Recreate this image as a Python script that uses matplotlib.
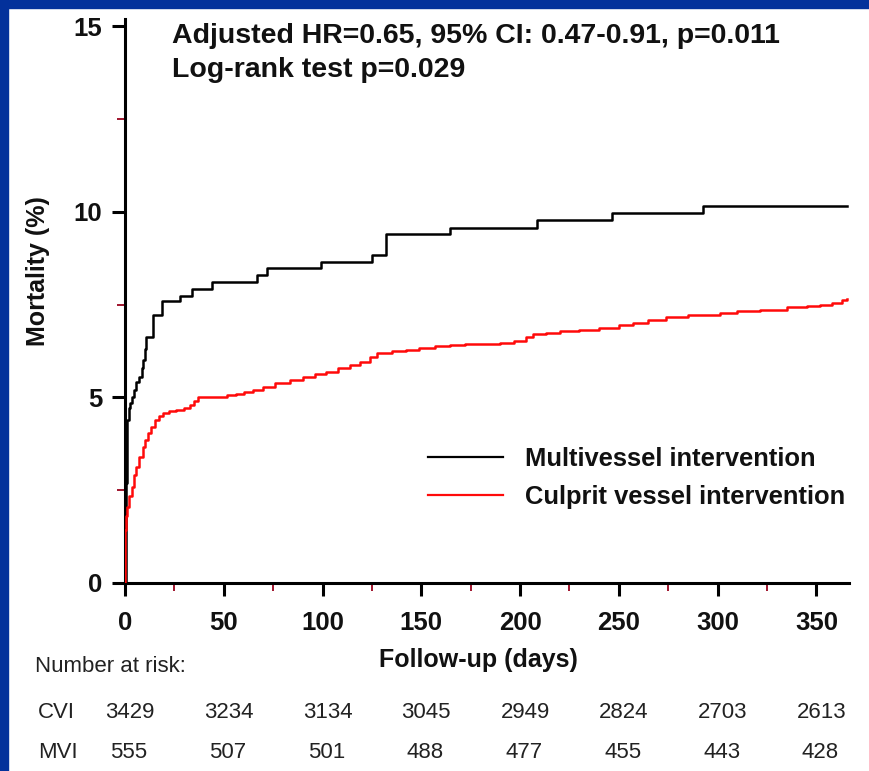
import matplotlib
matplotlib.use("Agg")
import matplotlib.pyplot as plt
from matplotlib.patches import Rectangle
from matplotlib.transforms import blended_transform_factory
from matplotlib.ticker import MultipleLocator

plt.rcParams['font.family'] = ['Liberation Sans', 'DejaVu Sans']

# Cumulative mortality (%) — multivessel intervention (MVI)
mvi_days = [0, 0.3, 0.5, 0.8, 1.0, 1.2, 2.0, 2.5, 3.5, 4.5, 5.5, 7.0, 8.5, 9.2,
            10.0, 10.8, 14.0, 18.6, 27.8, 33.9, 44.0, 67.0, 72.0, 99.0, 125.0,
            132.0, 164.5, 208.6, 246.6, 292.7, 365.6]
mvi_mort = [0, 1.5, 2.7, 3.5, 4.0, 4.4, 4.7, 4.85, 5.0, 5.2, 5.4, 5.55, 5.8, 6.0,
            6.3, 6.63, 7.22, 7.6, 7.74, 7.93, 8.1, 8.3, 8.49, 8.65, 8.84,
            9.4, 9.57, 9.78, 9.97, 10.16, 10.16]

# Cumulative mortality (%) — culprit vessel intervention (CVI)
cvi_days = [0, 0.1, 0.5, 1.2, 2.2, 3.4, 4.5, 5.6, 7.2, 9.0, 10.3, 11.6, 13.3,
            15.2, 17.0, 19.2, 22.5, 26.0, 30.0, 33.0, 35.0, 37.0, 43.0, 51.6,
            56, 60, 65, 70, 76, 83.5, 90, 96, 102, 108, 114, 119, 124, 127.6,
            135, 142, 149, 157, 164.5, 172, 180, 190, 197, 203, 206.6, 213,
            220, 230, 240, 250, 257, 265, 274, 285, 301, 310, 321.5, 335, 345,
            352, 358, 363, 365.6]
cvi_mort = [0, 1.43, 1.8, 2.05, 2.35, 2.59, 2.9, 3.13, 3.4, 3.67, 3.85, 4.04, 4.2,
            4.39, 4.5, 4.58, 4.62, 4.66, 4.72, 4.8, 4.9, 5.01, 5.02, 5.05,
            5.1, 5.15, 5.2, 5.28, 5.38, 5.47, 5.55, 5.62, 5.69, 5.78, 5.86, 5.96, 6.08, 6.2,
            6.24, 6.28, 6.33, 6.37, 6.41, 6.43, 6.45, 6.47, 6.53, 6.62, 6.7, 6.74,
            6.78, 6.82, 6.88, 6.95, 7.0, 7.08, 7.17, 7.22, 7.28, 7.32, 7.36, 7.42, 7.47,
            7.5, 7.55, 7.62, 7.65]

# Number at risk table
risk_days = [0, 50, 100, 150, 200, 250, 300, 350]
risk_cvi = [3429, 3234, 3134, 3045, 2949, 2824, 2703, 2613]
risk_mvi = [555, 507, 501, 488, 477, 455, 443, 428]

x_ticks = [0, 50, 100, 150, 200, 250, 300, 350]
y_ticks = [0, 5, 10, 15]

W, H = 869, 771
fig = plt.figure(figsize=(W / 100, H / 100), dpi=100)
fig.patch.set_facecolor('white')


def fx(px):
    return px / W


def fy(py):
    return 1 - py / H


# slide frame: blue bars on top and left edges
frame_blue = '#03319b'
fig.patches.append(Rectangle((0, fy(8)), 1, 8 / H, transform=fig.transFigure,
                             color=frame_blue, zorder=0))
fig.patches.append(Rectangle((0, 0), fx(8), 1, transform=fig.transFigure,
                             color=frame_blue, zorder=0))

left, right, bottom, top = 125, 849, 583, 18.6
ax = fig.add_axes([fx(left), fy(bottom), fx(right - left), (bottom - top) / H])
ax.set_facecolor('none')

ax.step(mvi_days, mvi_mort, where='post', color='black', lw=1.8,
        label='Multivessel intervention', zorder=3)
ax.step(cvi_days, cvi_mort, where='post', color='#ff0a0a', lw=1.8,
        label='Culprit vessel intervention', zorder=3)

ax.set_xlim(0, 366.5)
ax.set_ylim(0, 15.2)
ax.spines['top'].set_visible(False)
ax.spines['right'].set_visible(False)
for s in ('left', 'bottom'):
    ax.spines[s].set_linewidth(2.2)
ax.spines['left'].set_bounds(0, 15.2)

ax.set_xticks(x_ticks)
ax.set_yticks(y_ticks)
ax.xaxis.set_minor_locator(MultipleLocator(25))
ax.yaxis.set_minor_locator(MultipleLocator(2.5))
ax.tick_params(which='major', direction='out', length=9.5, width=2.2,
               labelsize=18.5, colors='black')
ax.tick_params(axis='x', which='major', pad=11)
ax.tick_params(axis='y', which='major', pad=7)
ax.tick_params(which='minor', direction='out', length=5.5, width=1.4,
               color='#a0142d')
for lab in ax.get_xticklabels() + ax.get_yticklabels():
    lab.set_fontweight('bold')
    lab.set_color('#111111')

leg = ax.legend(loc='upper left', bbox_to_anchor=(fx(428), fy(447)),
                bbox_transform=fig.transFigure, frameon=False,
                prop={'size': 18.4, 'weight': 'bold'}, handlelength=2.95,
                handletextpad=0.85, labelspacing=0.55, borderaxespad=0,
                borderpad=0)
for h in leg.get_lines():
    h.set_linewidth(1.6)
for t in leg.get_texts():
    t.set_color('#111111')

# annotation lines
fig.text(fx(172), fy(43), 'Adjusted HR=0.65, 95% CI: 0.47-0.91, p=0.011',
         fontsize=20.5, fontweight='bold', va='baseline', ha='left',
         color='#111111')
fig.text(fx(172), fy(77), 'Log-rank test p=0.029',
         fontsize=20.5, fontweight='bold', va='baseline', ha='left',
         color='#111111')

# axis titles
fig.text(fx(38), fy(271), 'Mortality (%)', rotation=90, fontsize=18,
         fontweight='bold', ha='center', va='center', color='#111111')
fig.text(fx(478), fy(660), 'Follow-up (days)', fontsize=18,
         fontweight='bold', ha='center', va='center', color='#111111')

# number at risk
risk_color = '#222222'
fig.text(fx(35), fy(667), 'Number at risk:', fontsize=16, ha='left',
         va='center', color=risk_color)
fig.text(fx(38), fy(712), 'CVI', fontsize=16, ha='left', va='center',
         color=risk_color)
fig.text(fx(38), fy(753), 'MVI', fontsize=16, ha='left', va='center',
         color=risk_color)
trans = blended_transform_factory(ax.transData, fig.transFigure)
for d, c, m in zip(risk_days, risk_cvi, risk_mvi):
    ax.text(d + 2.5, fy(712), str(c), transform=trans, fontsize=16,
            ha='center', va='center', clip_on=False, color=risk_color)
    ax.text(d + 2, fy(753), str(m), transform=trans, fontsize=16,
            ha='center', va='center', clip_on=False, color=risk_color)

fig.savefig('out.png', dpi=100)
